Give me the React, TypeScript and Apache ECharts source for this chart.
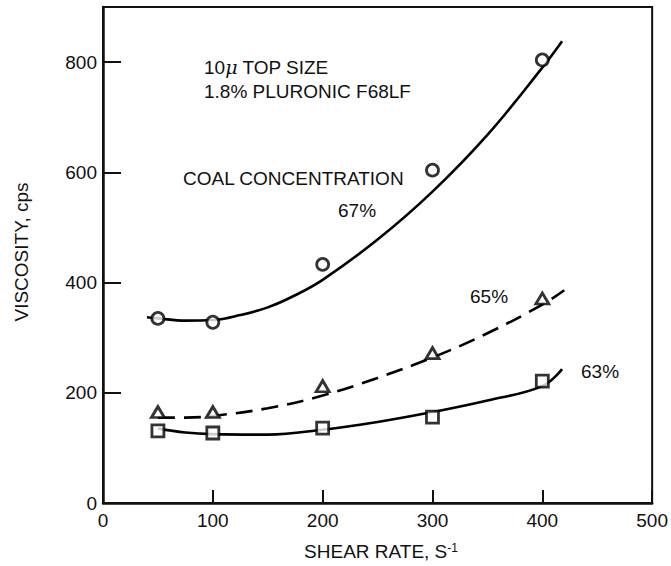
import React, { useEffect, useRef } from "react";
import * as echarts from "echarts";

// Measured points
const shearRate = [50, 100, 200, 300, 400];
const visc67 = [335, 328, 433, 604, 804];
const visc65 = [165, 165, 212, 272, 371];
const visc63 = [131, 127, 136, 156, 221];

// Fitted curves
const curveX67 = [40, 50, 75, 100, 125, 150, 175, 200, 250, 300, 350, 400, 418];
const curveY67 = [337, 335, 331, 332, 341, 355, 377, 405, 478, 565, 668, 790, 838];
const curveX65 = [50, 75, 100, 150, 200, 250, 300, 350, 400, 420];
const curveY65 = [155, 155, 158, 172, 195, 227, 264, 308, 360, 386];
const curveX63 = [50, 75, 100, 150, 200, 250, 300, 350, 400, 418];
const curveY63 = [135, 128, 125, 124, 133, 147, 165, 186, 212, 243];

const xTicks = [0, 100, 200, 300, 400, 500];
const yTicks = [0, 200, 400, 600, 800];

const FONT = "'Liberation Sans', Arial, sans-serif";
const INK = "#111";
const FS = 19;

const zip = (xs: number[], ys: number[]) => xs.map((x, i) => [x, ys[i]]);

export default function App() {
  const ref = useRef<HTMLDivElement>(null);
  useEffect(() => {
    if (!ref.current) return;
    const chart = echarts.init(ref.current, undefined, { renderer: "svg" });
    const markerStyle = { color: "#fff", borderColor: "#000", borderWidth: 2.8 };
    const curveBase = {
      type: "line" as const,
      smooth: 0.4,
      showSymbol: false,
      symbol: "none",
      silent: true,
      z: 2,
    };
    const txt = (x: number, y: number, text: string) => ({
      type: "text",
      x,
      y,
      style: { text, fontSize: FS, fontFamily: FONT, fill: INK, align: "left", verticalAlign: "middle" },
    });
    chart.setOption({
      animation: false,
      backgroundColor: "#fff",
      grid: {
        left: 103,
        right: 16,
        top: 7,
        bottom: 63,
        show: true,
        borderColor: INK,
        borderWidth: 2,
        backgroundColor: "transparent",
      },
      xAxis: {
        type: "value",
        min: xTicks[0],
        max: xTicks[xTicks.length - 1],
        interval: 100,
        axisLine: { show: true, lineStyle: { color: INK, width: 2.5 } },
        axisTick: { show: true, inside: true, length: 13, lineStyle: { color: INK, width: 2 } },
        axisLabel: { margin: 8, fontSize: FS, color: INK, fontFamily: FONT },
        splitLine: { show: false },
      },
      yAxis: {
        type: "value",
        min: yTicks[0],
        max: 900,
        interval: 200,
        axisLine: { show: true, lineStyle: { color: INK, width: 2.5 } },
        axisTick: { show: true, inside: true, length: 18, lineStyle: { color: INK, width: 2 } },
        axisLabel: {
          margin: 6,
          fontSize: FS,
          color: INK,
          fontFamily: FONT,
          showMaxLabel: false,
          formatter: (v: number) => (yTicks.includes(v) ? String(v) : ""),
        },
        splitLine: { show: false },
      },
      graphic: [
        {
          type: "text",
          x: 21,
          y: 252,
          rotation: Math.PI / 2,
          style: {
            text: "VISCOSITY, cps",
            fontSize: FS,
            fontFamily: FONT,
            fill: INK,
            align: "center",
            verticalAlign: "middle",
          },
        },
        {
          type: "text",
          x: 381,
          y: 551,
          style: {
            text: "SHEAR RATE, S{sup|-1}",
            fontSize: FS,
            fontFamily: FONT,
            fill: INK,
            align: "center",
            verticalAlign: "middle",
            rich: {
              sup: { fontSize: 12, fontFamily: FONT, fill: INK, verticalAlign: "top" },
            },
          },
        },
        {
          type: "text",
          x: 204,
          y: 67,
          style: {
            text: "10{mu|μ} TOP SIZE",
            fontSize: FS,
            fontFamily: FONT,
            fill: INK,
            align: "left",
            verticalAlign: "middle",
            rich: { mu: { fontSize: FS, fontFamily: "'DejaVu Serif', serif", fontStyle: "italic", fill: INK } },
          },
        },
        txt(204, 91, "1.8% PLURONIC F68LF"),
        txt(183, 178, "COAL CONCENTRATION"),
        txt(338, 210, "67%"),
        txt(470, 296, "65%"),
        txt(581, 371, "63%"),
      ],
      series: [
        { ...curveBase, name: "67% curve", data: zip(curveX67, curveY67), lineStyle: { color: "#000", width: 2.6 } },
        { ...curveBase, name: "65% curve", data: zip(curveX65, curveY65), lineStyle: { color: "#000", width: 2.6, type: [17, 9] } },
        { ...curveBase, name: "63% curve", data: zip(curveX63, curveY63), lineStyle: { color: "#000", width: 2.6 } },
        { type: "scatter", name: "67%", symbol: "circle", symbolSize: 12, z: 5, data: zip(shearRate, visc67), itemStyle: markerStyle },
        { type: "scatter", name: "65%", symbol: "triangle", symbolSize: [13, 11], z: 5, data: zip(shearRate, visc65), itemStyle: markerStyle },
        { type: "scatter", name: "63%", symbol: "rect", symbolSize: 12, z: 5, data: zip(shearRate, visc63), itemStyle: markerStyle },
      ],
    });
    return () => chart.dispose();
  }, []);
  return (
    <div
      ref={ref}
      style={{ position: "fixed", left: 0, top: 0, width: 671, height: 566, background: "#fff" }}
    />
  );
}
